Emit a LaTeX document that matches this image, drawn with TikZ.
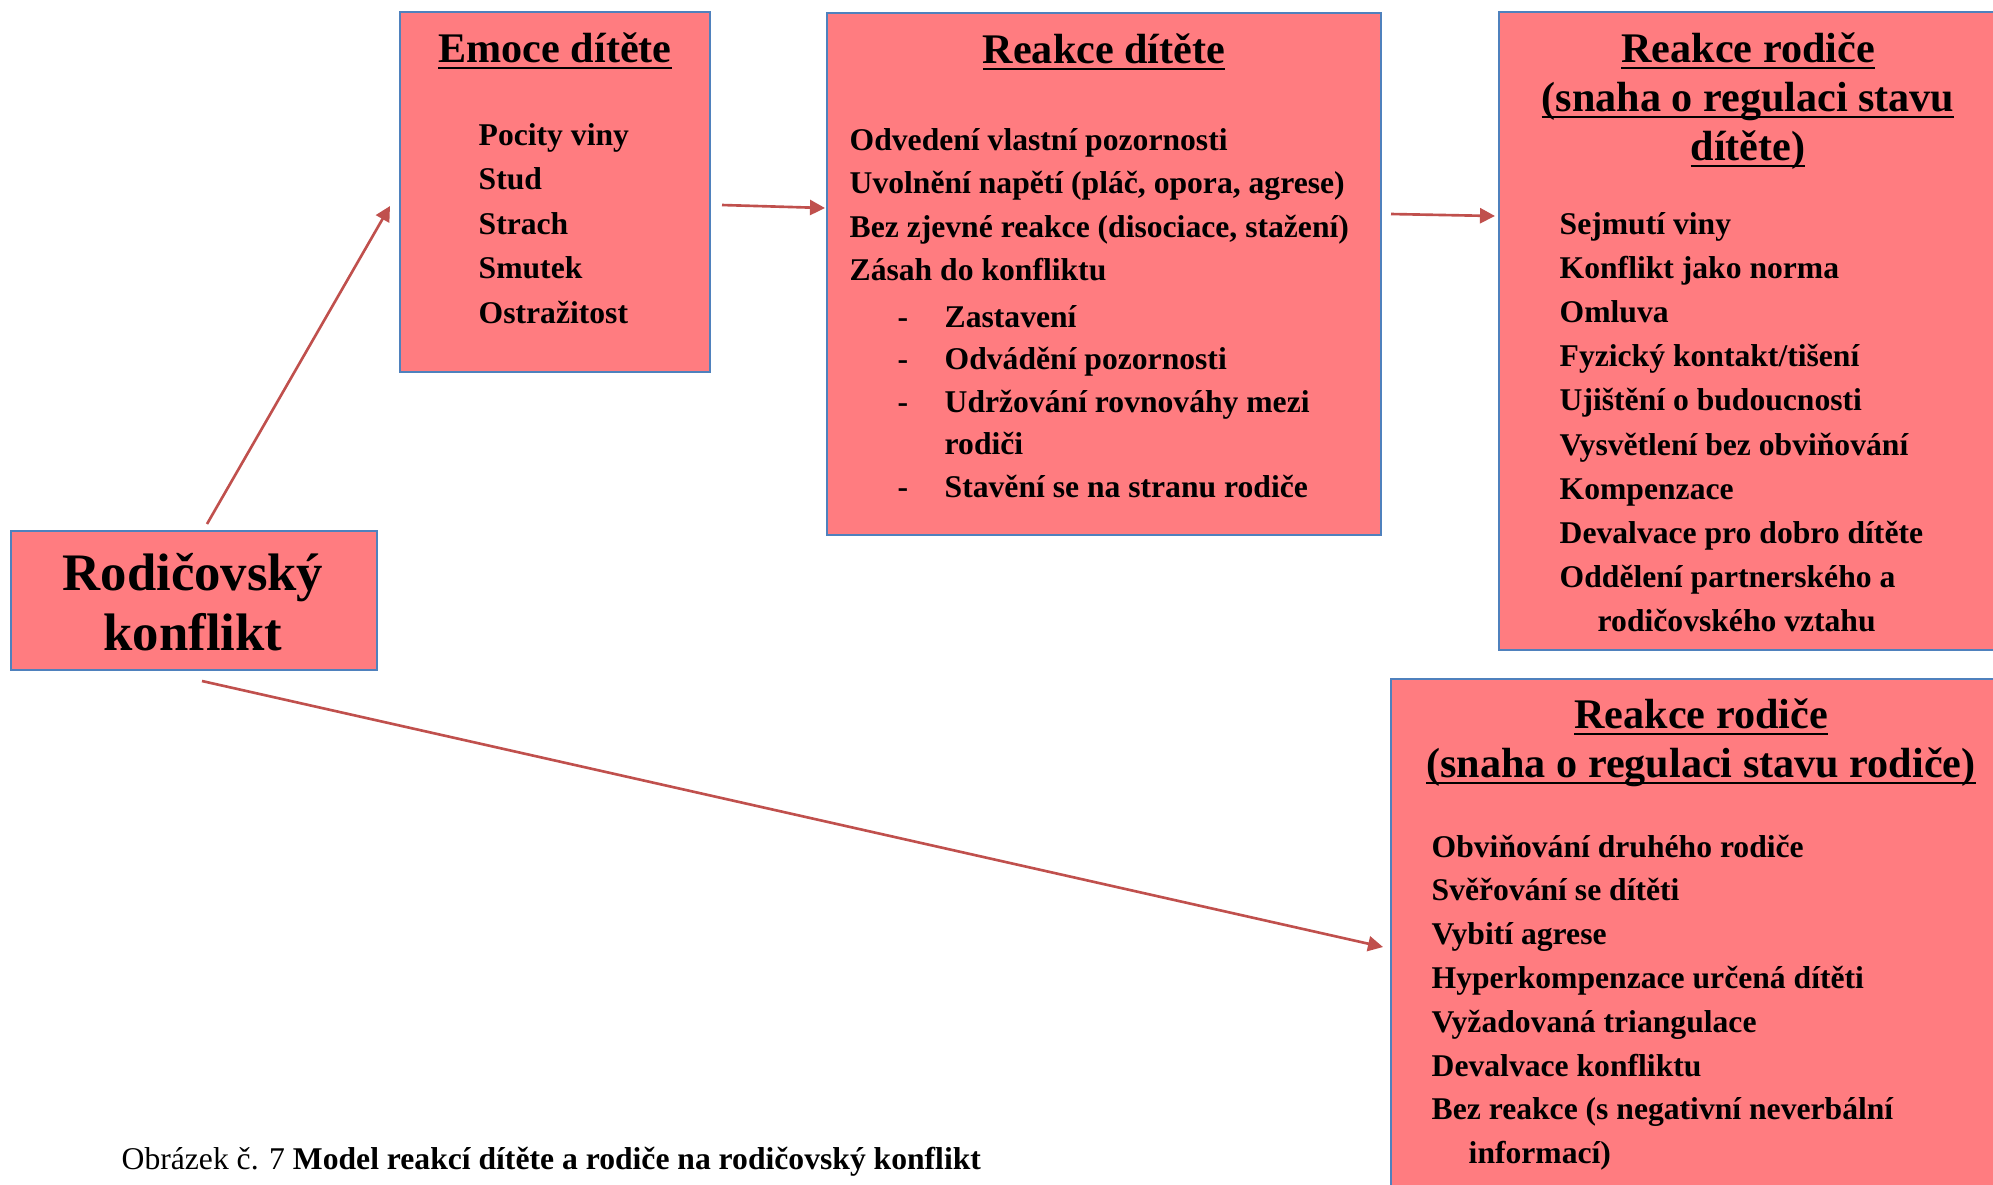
\documentclass[tikz,border=0pt]{standalone}
\usepackage{fontspec}
\setmainfont{Liberation Serif}
\usetikzlibrary{arrows.meta}
\definecolor{boxrose}{HTML}{FF7C80}
\definecolor{boxblue}{HTML}{4F81BD}
\definecolor{arrowred}{HTML}{C0504D}
\newcommand{\ultitle}[1]{\sbox0{#1}\rlap{\rule[-2.1pt]{\wd0}{0.75pt}}\usebox0}
\tikzset{
	x=0.1mm, y=-0.1mm,
	panel/.style= {
		rectangle,
		draw=boxblue,
		fill=boxrose,
		line width=0.5pt,
		inner sep=0, outer sep=0,
		anchor=north west
	},
	heading/.style= {
		font=\fontsize{12}{14}\selectfont\bfseries,
		inner sep=0, anchor=base
	},
	entry/.style= {
		font=\fontsize{9}{12.5}\selectfont\bfseries,
		inner sep=0, anchor=base west
	},
	bigtext/.style={font=\fontsize{15}{17}\selectfont\bfseries, inner sep=0, anchor=base},
	link/.style={-{Triangle[length=1.5mm, width=1.5mm]}, draw=arrowred, line width=0.75pt},
}

\begin{document}
\begin{tikzpicture}
	\useasboundingbox (0,0) rectangle (1993,1184);
	\clip (0,0) rectangle (1993,1184);
	
	\node (konflikt)[panel, minimum width=36.6mm, minimum height=13.9mm] at (11,531) {};
	\node (emoce)[panel, minimum width=31mm, minimum height=36mm] at (400,12) {};
	\node (reakce)[panel, minimum width=55.4mm, minimum height=52.2mm] at (827,13) {};
	\node (rodic)[panel, minimum width=51mm, minimum height=63.8mm] at (1499,12) {};
	\node (regul)[panel, minimum width=62mm, minimum height=55mm] at (1391,679) {};
	
	\foreach[count=\i from 0] \lbl in {Rodičovský, konflikt}
	{
		\node (konf\i)[bigtext] at (193,590+60*\i) {\lbl};
	}
	
	\node (emotitle)[heading] at (555,62) {\ultitle{Emoce dítěte}};
	\foreach[count=\i from 0] \lbl in {Pocity viny, Stud, Strach, Smutek, Ostražitost}
	{
		\node (emo\i)[entry] at (478,145+44.5*\i) {\lbl};
	}
	
	\node (reaktitle)[heading] at (1104,63) {\ultitle{Reakce dítěte}};
	\foreach[count=\i from 0] \lbl in {Odvedení vlastní pozornosti, {Uvolnění napětí (pláč, opora, agrese)}, {Bez zjevné reakce (disociace, stažení)}, Zásah do konfliktu}
	{
		\node (reak\i)[entry] at (849,150+43.5*\i) {\lbl};
	}
	\foreach[count=\i from 0] \lbl in {Zastavení, Odvádění pozornosti, Udržování rovnováhy mezi, rodiči, Stavění se na stranu rodiče}
	{
		\node (sub\i)[entry] at (944,327+42.5*\i) {\lbl};
	}
	\foreach \i in {0,1,2,4}
	{
		\node (dash\i)[entry] at (897,327+42.5*\i) {-};
	}
	
	\foreach[count=\i from 0] \lbl in {Reakce rodiče, {(snaha o regulaci stavu}, {dítěte)}}
	{
		\node (rodtitle\i)[heading] at (1748,62+49*\i) {\ultitle{\lbl}};
	}
	\foreach[count=\i from 0] \lbl in {Sejmutí viny, Konflikt jako norma, Omluva, Fyzický kontakt/tišení, Ujištění o budoucnosti, Vysvětlení bez obviňování, Kompenzace, Devalvace pro dobro dítěte, Oddělení partnerského a}
	{
		\node (rod\i)[entry] at (1559,234+44.2*\i) {\lbl};
	}
	\node (rod9)[entry] at (1597,234+44.2*9) {rodičovského vztahu};
	
	\foreach[count=\i from 0] \lbl in {Reakce rodiče, {(snaha o regulaci stavu rodiče)}}
	{
		\node (regtitle\i)[heading] at (1701,728+49*\i) {\ultitle{\lbl}};
	}
	\foreach[count=\i from 0] \lbl in {Obviňování druhého rodiče, Svěřování se dítěti, Vybití agrese, Hyperkompenzace určená dítěti, Vyžadovaná triangulace, Devalvace konfliktu, {Bez reakce (s negativní neverbální}}
	{
		\node (reg\i)[entry] at (1431,857+43.8*\i) {\lbl};
	}
	\node (reg7)[entry] at (1468,857+43.8*7) {informací)};
	
	\node (caption)[font=\fontsize{9}{11}\selectfont, inner sep=0, anchor=base west] at (121,1169) {Obrázek č. 7 \textbf{Model reakcí dítěte a rodiče na rodičovský konflikt}};
	
	\draw[link] ([shift={(13,-7)}]konflikt.north) -- ([shift={(-10,14)}]emoce.west);
	\draw[link] ([shift={(12,13)}]emoce.east) -- ([shift={(-2,-66)}]reakce.west);
	\draw[link] ([shift={(10,-60)}]reakce.east) -- ([shift={(-4,-115)}]rodic.west);
	\draw[link] ([shift={(8,11)}]konflikt.south) -- ([shift={(-8,-7)}]regul.west);
	
\end{tikzpicture}
\end{document}
